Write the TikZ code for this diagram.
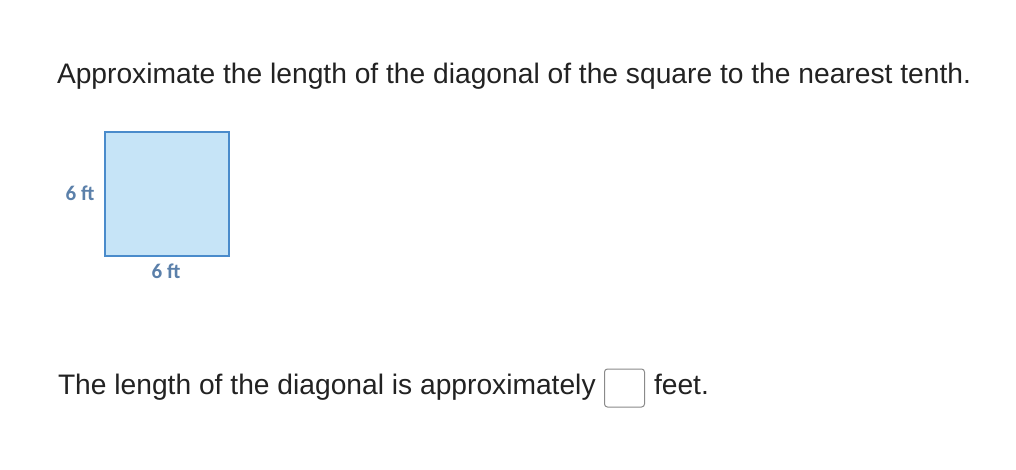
\documentclass[tikz,border=0pt]{standalone}
\usepackage{fontspec}
\setmainfont{Liberation Sans}
\newfontfamily\lblfont{Carlito}
\definecolor{txt}{HTML}{222222}
\definecolor{sqfill}{HTML}{C6E4F7}
\definecolor{sqline}{HTML}{4A8BCB}
\definecolor{lbl}{HTML}{5B80AA}
\definecolor{boxline}{HTML}{8A8A8A}
\begin{document}
\begin{tikzpicture}[x=1pt,y=-1pt,
  qtext/.style={inner sep=0pt,outer sep=0pt,text=txt,font=\fontsize{28.2}{32}\selectfont},
  dimlabel/.style={inner sep=0pt,text=lbl,font=\lblfont\bfseries\fontsize{21}{24}\selectfont},
  square/.style={draw=sqline,fill=sqfill,line width=2pt},
  ansbox/.style={draw=boxline,line width=1pt,rounded corners=3pt,fill=white}]
\useasboundingbox[fill=white] (0,0) rectangle (1016,470);
\node[qtext,anchor=base west] (q) at (57,84) {Approximate the length of the diagonal of the square to the nearest tenth.};
\node[square,minimum width=124pt,minimum height=123pt,inner sep=0pt] (sq) at (166.5,194) {};
\node[dimlabel] (ls) at (80,193) {6 ft};
\node[dimlabel] (lb) at (166,271) {6 ft};
\node[qtext,anchor=base west] (a) at (58,394) {The length of the diagonal is approximately};
\node[ansbox,minimum width=40pt,minimum height=38pt,inner sep=0pt] (box) at (624.5,388) {};
\node[qtext,anchor=base west] (f) at (654,394) {feet.};
\end{tikzpicture}
\end{document}
